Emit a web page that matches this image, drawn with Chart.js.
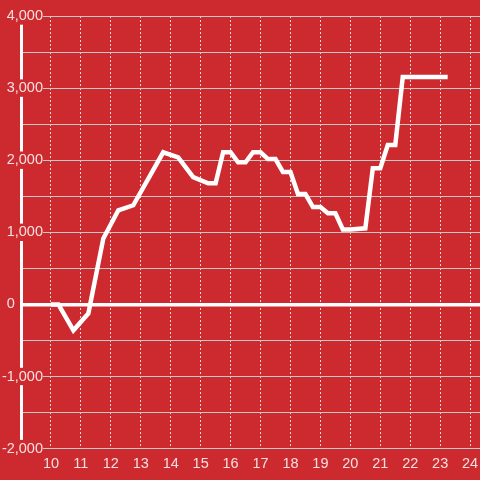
<!DOCTYPE html>
<html>
<head>
 <title>Intraday line</title>
 <script src="https://cdn.jsdelivr.net/npm/chart.js"></script>
 <style>
  html, body { margin: 0; padding: 0; background: #cc2a2f; }
  #chart-container { width: 480px; height: 480px; }
 </style>
</head>
<body>
 <div id="chart-container">
  <canvas id="lineChart"></canvas>
 </div>

 <script>
  // time of day (hours) and value at each point
  const hours = [10.0, 10.25, 10.75, 11.25, 11.75, 12.25, 12.75, 13.75, 14.25, 14.75,
   15.25, 15.5, 15.75, 16.0, 16.25, 16.5, 16.75, 17.0, 17.25, 17.5,
   17.75, 18.0, 18.25, 18.5, 18.75, 19.0, 19.25, 19.5, 19.75, 20.0,
   20.5, 20.75, 21.0, 21.25, 21.5, 21.75, 23.25];
  const values = [0, 0, -360, -125, 915, 1305, 1375, 2110, 2040, 1765,
   1680, 1680, 2110, 2110, 1970, 1970, 2110, 2110, 2015, 2015,
   1835, 1835, 1530, 1530, 1350, 1350, 1265, 1265, 1040, 1040,
   1055, 1890, 1890, 2210, 2210, 3155, 3155];

  const xTickLabels = [10, 11, 12, 13, 14, 15, 16, 17, 18, 19, 20, 21, 22, 23, 24];
  const yMin = -2000;
  const yMax = 4000;

  const red = '#cc2a2f';
  const labelColor = 'rgba(255,255,255,0.85)';
  const fontFamily = 'Liberation Sans, Arial, sans-serif';
  const fontSize = 14.5;

  // y labels sit right-aligned over the axis line, ending at x = 43
  const measure = document.createElement('canvas').getContext('2d');
  measure.font = fontSize + 'px ' + fontFamily;
  const widest = measure.measureText('-2,000').width;

  const ctx = document.getElementById('lineChart').getContext('2d');
  const chart = new Chart(ctx, {
   type: 'line',
   data: {
    datasets: [{
     data: hours.map((h, i) => ({ x: h, y: values[i] })),
     borderColor: '#ffffff',
     borderWidth: 4.5,
     pointRadius: 0,
     tension: 0,
     fill: false
    }]
   },
   options: {
    responsive: true,
    maintainAspectRatio: false,
    animation: false,
    layout: { padding: { top: 16, left: 0, right: 0, bottom: 0 } },
    plugins: {
     legend: { display: false },
     tooltip: { enabled: false }
    },
    scales: {
     x: {
      type: 'linear',
      min: 9,
      max: 24.33,
      afterFit: scale => { scale.paddingLeft = 0; scale.paddingRight = 0; },
      grid: {
       color: 'rgba(255,255,255,0.8)',
       lineWidth: 1,
       drawTicks: false
      },
      border: { display: false, dash: [2, 2] },
      ticks: {
       stepSize: 1,
       includeBounds: false,
       autoSkip: false,
       maxRotation: 0,
       padding: 7,
       color: labelColor,
       font: { family: fontFamily, size: fontSize },
       callback: v => xTickLabels.includes(v) ? String(v) : ''
      }
     },
     y: {
      min: yMin,
      max: yMax,
      afterFit: scale => { scale.width = 21; },
      grid: {
       color: c => c.tick.value === 0 ? '#ffffff' : '#c8c8c8',
       lineWidth: c => c.tick.value === 0 ? 3.5 : 1,
       drawTicks: false
      },
      border: { display: true, color: '#ffffff', width: 3 },
      ticks: {
       stepSize: 500,
       autoSkip: false,
       mirror: true,
       crossAlign: 'far',
       padding: 22 - widest,
       color: labelColor,
       font: { family: fontFamily, size: fontSize },
       showLabelBackdrop: c => c.tick.value % 1000 === 0 && c.tick.value !== 0,
       backdropColor: red,
       backdropPadding: 0,
       callback: v => {
        if (v % 1000 !== 0) return '';
        if (v === 0) return '0' + '\u00a0'.repeat(7);
        return v.toLocaleString('en-US');
       }
      }
     }
    }
   }
  });
 </script>
</body>
</html>
